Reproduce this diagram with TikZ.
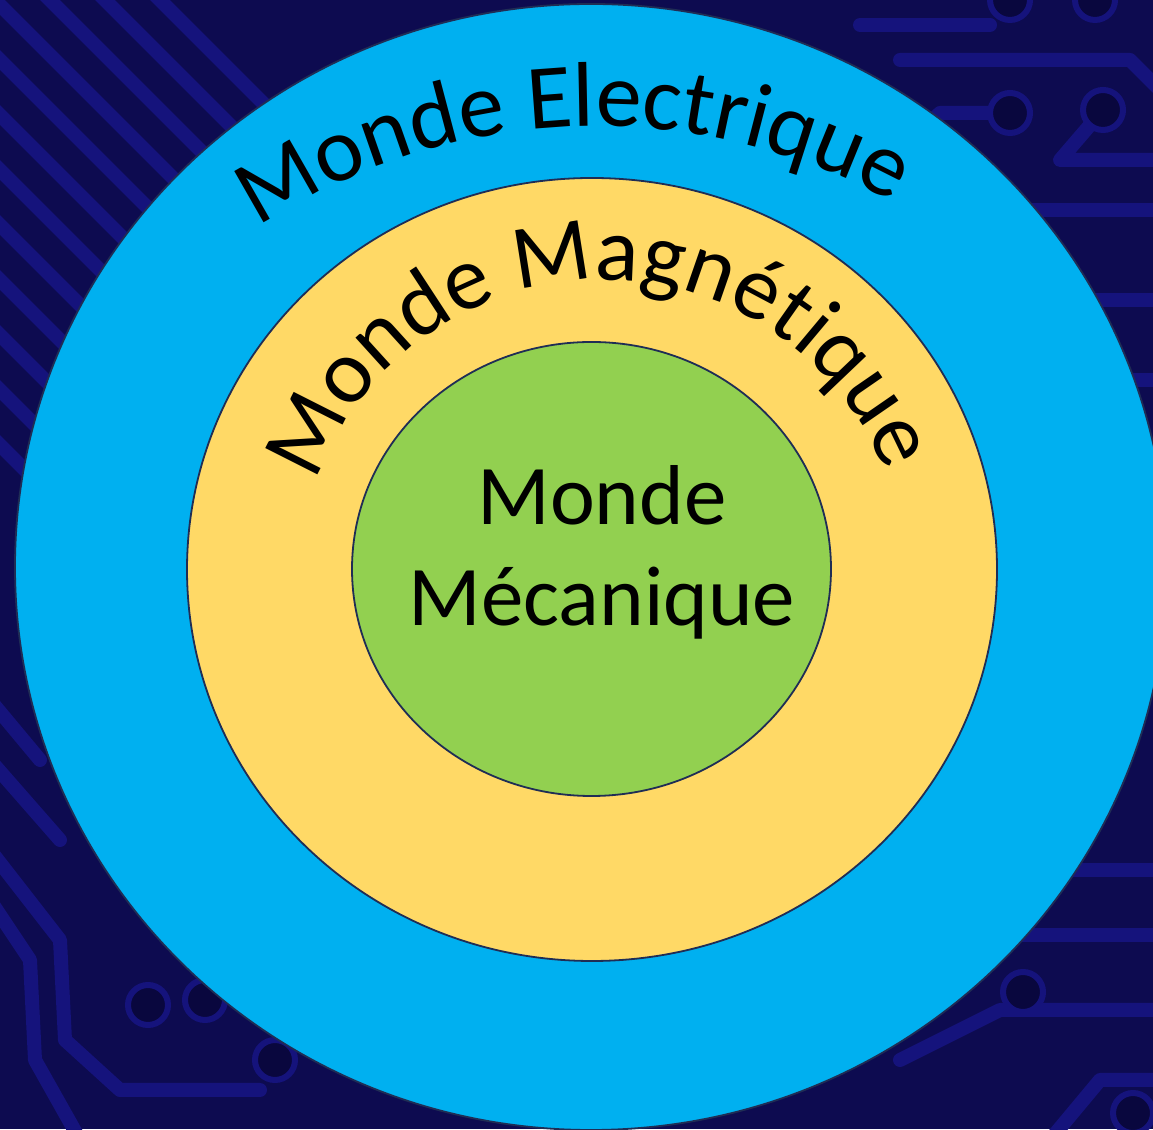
\documentclass[tikz,border=0pt]{standalone}
\usepackage{fontspec}
\setmainfont{Carlito}
\usetikzlibrary{shapes.geometric,decorations.text}
\definecolor{bgnavy}{HTML}{0D0B50}
\definecolor{tracecol}{HTML}{15137C}
\definecolor{padcore}{HTML}{09073E}
\definecolor{elecblue}{HTML}{00B0F0}
\definecolor{magyellow}{HTML}{FFD966}
\definecolor{mecgreen}{HTML}{92D050}
\definecolor{rim}{HTML}{1F2D55}
\begin{document}
\begin{tikzpicture}[x=1pt,y=1pt,
  world/.style={ellipse, draw=rim, line width=1.8pt, inner sep=0pt},
  trc/.style={draw=tracecol, line width=14pt, line cap=round, line join=round},
  padring/.style={draw=tracecol, line width=6pt, fill=padcore},
  arctext/.style={decorate, decoration={text along path, text align=center, text={#1}}}]
\useasboundingbox (0,0) rectangle (1153,1129);
\fill[bgnavy] (0,0) rectangle (1153,1129);
% faint circuit-board background (pixel coordinates, y downwards)
\begin{scope}[shift={(0,1129)}, yscale=-1]
  \clip (0,0) rectangle (1153,1129);
  \foreach \k in {0,...,11} \draw[trc] (-60,-220+\k*55) -- (380,220+\k*55);
  \draw[trc] (900,60) -- (1130,60) -- (1160,90);
  \draw[trc] (860,25) -- (990,25);
  \draw[trc] (1010,113) -- (940,113) -- (900,150);
  \draw[trc] (1103,110) -- (1060,160) -- (1160,160);
  \draw[trc] (1000,210) -- (1160,210);
  \draw[trc] (1080,300) -- (1160,300);
  \draw[trc] (1100,380) -- (1160,380);
  \draw[trc] (-10,850) -- (60,940) -- (65,1040) -- (120,1090) -- (260,1090);
  \draw[trc] (-10,900) -- (30,960) -- (35,1060) -- (80,1140);
  \draw[trc] (-10,700) -- (40,760);
  \draw[trc] (-10,760) -- (60,840);
  \draw[trc] (1050,870) -- (1160,870);
  \draw[trc] (980,935) -- (1160,935);
  \draw[trc] (900,1060) -- (1000,1010) -- (1160,1010);
  \draw[trc] (1050,1140) -- (1100,1080) -- (1160,1080);
  \foreach \px/\py in {1010/113,1103/110,1010/0,1095/0,148/1005,205/1000,275/1060,1023/992,1133/1113}
    \draw[padring] (\px,\py) circle (20);
\end{scope}
% the three worlds
\begin{scope}
  \clip (0,0) rectangle (1153,1129);
  \node[world, fill=elecblue, minimum width=1152pt, minimum height=1126pt] (elec) at (591,562) {};
\end{scope}
\node[world, fill=magyellow, minimum width=810pt, minimum height=783pt] (mag) at (592,559.5) {};
\node[world, fill=mecgreen, minimum width=479pt, minimum height=454pt] (mec) at (591.5,560) {};
% curved labels
\path[arctext={|\fontsize{92}{100}\selectfont|Monde Electrique}]
  (597,388) ++(124.6:615) arc[start angle=124.6, end angle=60.0, radius=615];
\path[arctext={|\fontsize{91}{100}\selectfont|Monde Magnétique}]
  (603,545) ++(161:304) arc[start angle=161, end angle=21, radius=304];
% centre label
\node[font=\fontsize{85}{101}\selectfont, align=center, inner sep=0pt] (mectext) at (602,577) {Monde\\Mécanique};
\end{tikzpicture}
\end{document}
